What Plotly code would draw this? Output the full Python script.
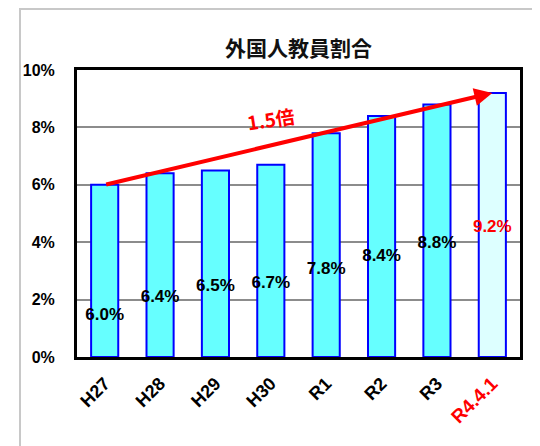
import plotly.graph_objects as go

categories = ["H27", "H28", "H29", "H30", "R1", "R2", "R3", "R4.4.1"]
ratio_pct = [6.0, 6.4, 6.5, 6.7, 7.8, 8.4, 8.8, 9.2]
label_y = [1.45, 2.05, 2.45, 2.55, 3.05, 3.5, 3.95, 4.5]
y_ticks = [0, 2, 4, 6, 8, 10]
growth_text = "1.5倍"
title_text = "外国人教員割合"

FONT = "Liberation Sans, Arial, sans-serif"
CJK = "Noto Sans CJK JP, sans-serif"

# page body adds an 8px offset; figure-space margins compensate
L, T, PW, PH = 69, 62, 443, 287
W, H = 540, 446

n = len(categories)
x_idx = list(range(n))
bar_colors = ["#66FFFF"] * (n - 1) + ["#DDFFFF"]
label_colors = ["black"] * (n - 1) + ["red"]
tick_text = [f"<b>{c}</b>" for c in categories[:-1]] + [f"<span style='color:red;font-size:19px'><b>{categories[-1]}</b></span>"]

fig = go.Figure()
fig.add_trace(go.Bar(
    x=x_idx, y=ratio_pct,
    marker=dict(color=bar_colors, line=dict(color="#0000FF", width=2)),
    width=0.49, hoverinfo="skip", showlegend=False,
))
fig.add_trace(go.Scatter(
    x=x_idx, y=label_y, mode="text",
    text=[f"<b>{v:.1f}%</b>" for v in ratio_pct],
    textfont=dict(family=FONT, size=17, color=label_colors),
    hoverinfo="skip", showlegend=False,
))

fig.add_annotation(
    x=n - 1, y=ratio_pct[-1], ax=0, ay=ratio_pct[0],
    xref="x", yref="y", axref="x", ayref="y",
    showarrow=True, arrowhead=2, arrowsize=0.9, arrowwidth=4, arrowcolor="#FF0000",
    text="",
)
fig.add_annotation(
    x=3, y=8.3, xref="x", yref="y", text=f"<b>{growth_text}</b>",
    showarrow=False, textangle=-9,
    font=dict(family=CJK, size=19, color="#FF0000"),
)

# outer light frame
fig.add_shape(type="rect", xref="paper", yref="paper",
              x0=(12 - L) / PW, x1=(W + 20 - L) / PW,
              y0=-0.6, y1=(PH + T - 1) / PH,
              line=dict(color="#C8C8C8", width=2), layer="below")

fig.update_layout(
    width=W, height=H,
    margin=dict(l=L, r=W - L - PW, t=T, b=H - T - PH),
    paper_bgcolor="white", plot_bgcolor="white",
    title=dict(text=f"<b>{title_text}</b>", x=0.5, xref="paper", y=1 - 41 / H, yanchor="middle",
               font=dict(family=CJK, size=21, color="#111")),
    xaxis=dict(
        range=[-0.5, n - 0.5], tickmode="array", tickvals=x_idx, ticktext=tick_text,
        tickangle=-45, showgrid=False, showline=True, linecolor="black", linewidth=3, mirror=True,
        tickfont=dict(family=FONT, size=18, color="black"), ticks="", ticklabelstandoff=6,
    ),
    yaxis=dict(
        range=[0, 10], tickmode="array", tickvals=y_ticks,
        ticktext=[f"<b>{t}%</b>" for t in y_ticks],
        showgrid=True, gridcolor="#8C8C8C", gridwidth=1.5,
        showline=True, linecolor="black", linewidth=3, mirror=True,
        tickfont=dict(family=FONT, size=16, color="black"), ticks="", ticklabelstandoff=16,
        zeroline=False,
    ),
)

fig.write_html("out.html")
